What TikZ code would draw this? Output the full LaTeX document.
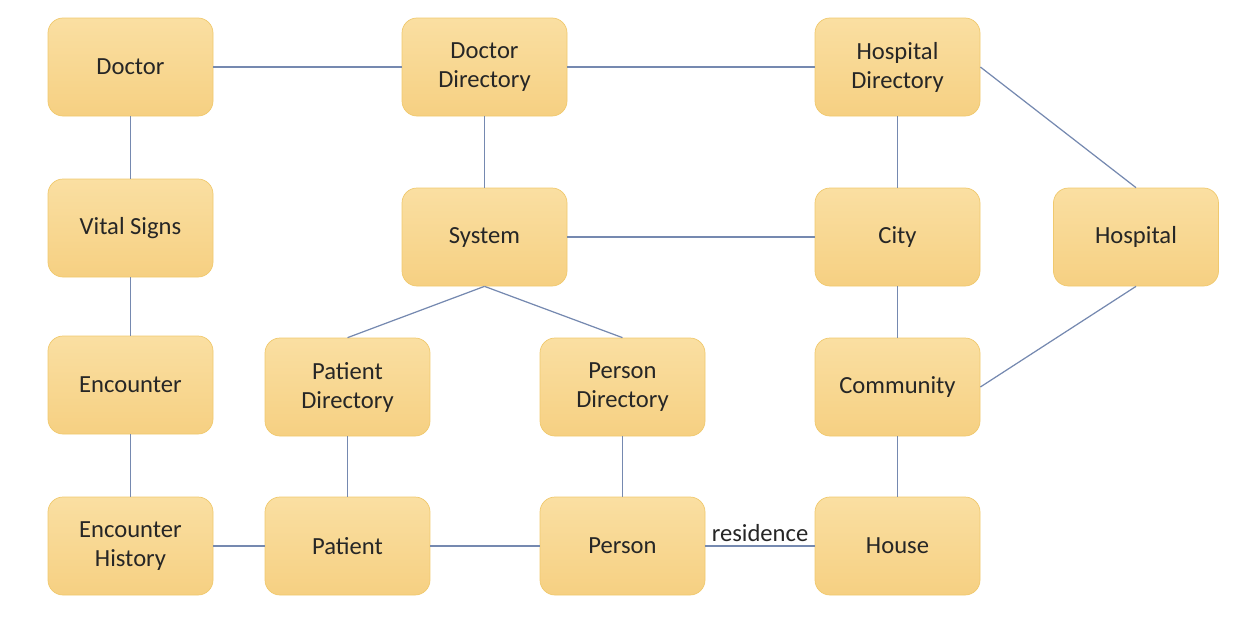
\documentclass[tikz,border=0pt]{standalone}
\usepackage{fontspec}
\setmainfont{Carlito}
\definecolor{boxtop}{HTML}{FADFA2}
\definecolor{boxbot}{HTML}{F6D082}
\definecolor{boxline}{HTML}{F0C96E}
\definecolor{linkcol}{HTML}{7589B0}

\begin{document}
\begin{tikzpicture}[
 entity/.style={rectangle, rounded corners=0.3cm, draw=boxline, top color=boxtop, bottom color=boxbot,
  minimum width=3.3cm, minimum height=1.96cm, align=center, text=black!85,
  font=\fontsize{14}{16.5}\selectfont},
 link/.style={linkcol, line width=0.7pt}
]
 \useasboundingbox (0, 0) rectangle (24.72, 12.6);

 \node[entity] (doctor) at (2.61, 11.26) {Doctor};
 \node[entity] (docdir) at (9.69, 11.26) {Doctor\\Directory};
 \node[entity] (hospdir) at (17.95, 11.26) {Hospital\\Directory};
 \node[entity] (vital) at (2.61, 8.04) {Vital Signs};
 \node[entity] (system) at (9.69, 7.86) {System};
 \node[entity] (city) at (17.95, 7.86) {City};
 \node[entity] (hospital) at (22.72, 7.86) {Hospital};
 \node[entity] (encounter) at (2.61, 4.9) {Encounter};
 \node[entity] (patdir) at (6.95, 4.86) {Patient\\Directory};
 \node[entity] (perdir) at (12.45, 4.86) {Person\\Directory};
 \node[entity] (community) at (17.95, 4.86) {Community};
 \node[entity] (enchist) at (2.61, 1.68) {Encounter\\History};
 \node[entity] (patient) at (6.95, 1.68) {Patient};
 \node[entity] (person) at (12.45, 1.68) {Person};
 \node[entity] (house) at (17.95, 1.68) {House};

 \draw[link] (doctor) -- (docdir);
 \draw[link] (docdir) -- (hospdir);
 \draw[link] (hospdir.east) -- (hospital.north);
 \draw[link] (doctor) -- (vital);
 \draw[link] (vital) -- (encounter);
 \draw[link] (encounter) -- (enchist);
 \draw[link] (docdir) -- (system);
 \draw[link] (hospdir) -- (city);
 \draw[link] (system) -- (city);
 \draw[link] (system.south) -- (patdir.north);
 \draw[link] (system.south) -- (perdir.north);
 \draw[link] (patdir) -- (patient);
 \draw[link] (perdir) -- (person);
 \draw[link] (city) -- (community);
 \draw[link] (community) -- (house);
 \draw[link] (community.east) -- (hospital.south);
 \draw[link] (enchist) -- (patient);
 \draw[link] (patient) -- (person);
 \draw[link] (person) -- (house) node[midway, above=-1pt, black!85, font=\fontsize{14}{16.5}\selectfont] {residence};
\end{tikzpicture}
\end{document}
